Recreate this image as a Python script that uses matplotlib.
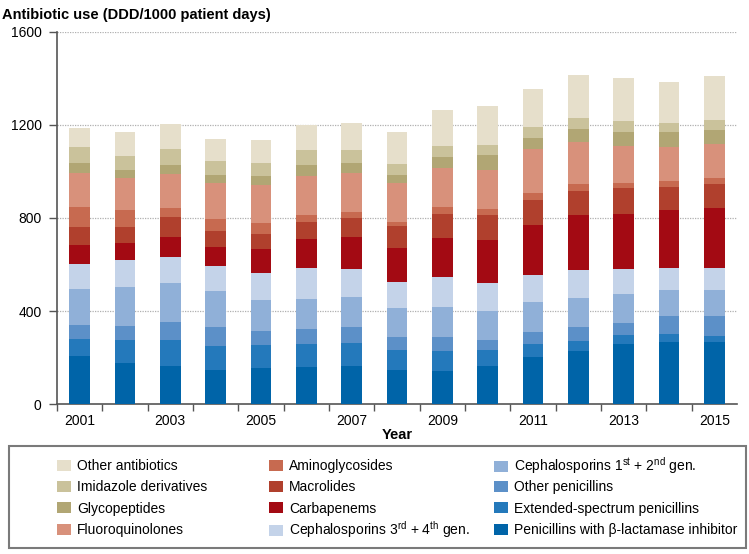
import matplotlib
matplotlib.use('Agg')
import matplotlib.pyplot as plt
from matplotlib.patches import Rectangle
import numpy as np

plt.rcParams['font.family'] = ['Liberation Sans', 'DejaVu Sans']
plt.rcParams['mathtext.fontset'] = 'custom'
plt.rcParams['mathtext.rm'] = 'Liberation Sans'
plt.rcParams['mathtext.it'] = 'Liberation Sans'
plt.rcParams['mathtext.bf'] = 'Liberation Sans:bold'

years = list(range(2001, 2016))

# cumulative tops, bottom class first
classes = [
    'Penicillins with \u03b2-lactamase inhibitor',
    'Extended-spectrum penicillins',
    'Other penicillins',
    'Cephalosporins 1$^{\\mathrm{st}}$ + 2$^{\\mathrm{nd}}$ gen.',
    'Cephalosporins 3$^{\\mathrm{rd}}$ + 4$^{\\mathrm{th}}$ gen.',
    'Carbapenems',
    'Macrolides',
    'Aminoglycosides',
    'Fluoroquinolones',
    'Glycopeptides',
    'Imidazole derivatives',
    'Other antibiotics',
]
colors = ['#0064a8', '#2479bb', '#5c90c8', '#90b0d8', '#c4d3e9', '#a30a13',
          '#b0402d', '#c76a50', '#d8917b', '#b1a674', '#cac29b', '#e6dfcb']

tops_2001 = [207, 282, 339, 495, 604, 685, 763, 847, 994, 1035, 1106, 1185]
tops_2002 = [179, 276, 338, 505, 618, 694, 763, 836, 973, 1007, 1067, 1169]
tops_2003 = [166, 276, 352, 521, 632, 720, 803, 843, 987, 1029, 1096, 1203]
tops_2004 = [147, 252, 332, 485, 594, 677, 745, 796, 949, 986, 1046, 1139]
tops_2005 = [155, 253, 316, 449, 565, 668, 733, 778, 940, 979, 1037, 1133]
tops_2006 = [159, 259, 323, 452, 587, 710, 783, 811, 982, 1027, 1091, 1201]
tops_2007 = [164, 265, 332, 461, 582, 718, 800, 827, 995, 1035, 1092, 1209]
tops_2008 = [149, 232, 289, 414, 525, 671, 764, 783, 949, 983, 1033, 1169]
tops_2009 = [143, 228, 289, 418, 545, 714, 818, 847, 1016, 1062, 1108, 1262]
tops_2010 = [167, 234, 277, 402, 521, 704, 811, 838, 1007, 1070, 1115, 1281]
tops_2011 = [202, 259, 310, 439, 554, 770, 879, 907, 1095, 1145, 1192, 1354]
tops_2012 = [230, 273, 332, 458, 577, 811, 917, 944, 1125, 1182, 1228, 1414]
tops_2013 = [260, 298, 349, 475, 581, 818, 929, 950, 1109, 1171, 1218, 1402]
tops_2014 = [267, 302, 379, 491, 587, 833, 933, 957, 1105, 1171, 1209, 1384]
tops_2015 = [267, 295, 379, 491, 585, 843, 945, 970, 1119, 1178, 1221, 1410]

tops = np.array([tops_2001, tops_2002, tops_2003, tops_2004, tops_2005,
                 tops_2006, tops_2007, tops_2008, tops_2009, tops_2010,
                 tops_2011, tops_2012, tops_2013, tops_2014, tops_2015])
values = np.diff(np.hstack([np.zeros((len(years), 1)), tops]), axis=1)

W, H = 749, 554
fig = plt.figure(figsize=(W / 100, H / 100), dpi=100)
ax = fig.add_axes([0.076, 0.270, 0.908, 0.673])

x = np.arange(len(years))
bottom = np.zeros(len(years))
handles = []
for i, name in enumerate(classes):
    h = ax.bar(x, values[:, i], bottom=bottom, width=0.46, color=colors[i],
               label=name, zorder=3)
    handles.append(h)
    bottom += values[:, i]

ax.set_xlim(-0.48, 14.5)
ax.set_ylim(0, 1600)
ax.set_yticks([0, 400, 800, 1200, 1600])
for yv in [400, 800, 1200, 1600]:
    ax.axhline(yv, color='#b0b0b0', linestyle=(0, (1, 1)), linewidth=0.9, zorder=1)

ax.set_xticks(x[::2])
ax.set_xticklabels([str(y) for y in years[::2]])
ax.set_xticks(np.arange(-0.5, 14, 1), minor=True)
ax.tick_params(axis='x', which='major', length=0, pad=7, labelsize=10)
ax.tick_params(axis='x', which='minor', length=5, width=1, color='#555555')
ax.tick_params(axis='y', length=6, width=1, color='#555555', labelsize=10, pad=5)

ax.spines['top'].set_visible(False)
ax.spines['right'].set_visible(False)
for side in ['left', 'bottom']:
    ax.spines[side].set_color('#555555')
    ax.spines[side].set_linewidth(1.2)

ax.set_xlabel('Year', fontsize=10.5, fontweight='bold', labelpad=0)
fig.text(2 / W, 1 - 14.5 / H, 'Antibiotic use (DDD/1000 patient days)', fontsize=10.5,
         fontweight='bold', va='center', ha='left')

# legend box: three columns of four rows, reverse stack order
fig.patches.append(Rectangle((9 / W, 1 - 548 / H), 737 / W, 102 / H,
                             transform=fig.transFigure, fill=False,
                             edgecolor='#7a7a7a', linewidth=1.5))
order = handles[::-1]
col_x = [57, 269, 494]
row_y = [466, 487, 508.5, 530]
for k, h in enumerate(order):
    c, r = divmod(k, 4)
    fig.legend([h], [h.get_label()], loc='center left',
               bbox_to_anchor=(col_x[c] / W, 1 - row_y[r] / H), fontsize=10,
               frameon=False, handlelength=1.0, handleheight=0.85,
               handletextpad=0.45, borderpad=0, borderaxespad=0)

plt.savefig('out.png', dpi=100)
